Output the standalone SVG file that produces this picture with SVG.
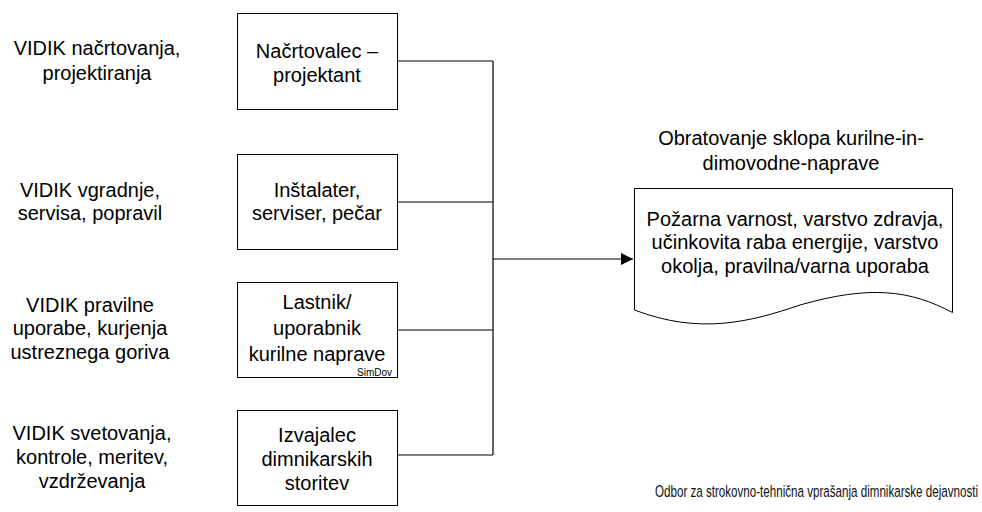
<svg xmlns="http://www.w3.org/2000/svg" width="982" height="512" viewBox="0 0 982 512">
<style>
.box{fill:#fff;stroke:#000;stroke-width:1}
.t{font-family:"Liberation Sans",Arial,sans-serif;font-size:20px;fill:#000;text-anchor:middle}
.c{fill:none;stroke:#000;stroke-width:1.2}
.s{font-family:"Liberation Sans",Arial,sans-serif;font-size:10px;fill:#000}
.f{font-family:"Liberation Sans",Arial,sans-serif;font-size:14px;fill:#111}
</style>
<defs>
<marker id="arr" viewBox="0 0 12 12" refX="12" refY="6" markerWidth="12" markerHeight="12" markerUnits="userSpaceOnUse" orient="auto">
<path d="M0,0 L12,6 L0,12 Z" fill="#000"/>
</marker>
</defs>
<rect width="982" height="512" fill="#fff"/>
<g id="labels">
<text class="t" x="97" y="55">VIDIK načrtovanja,</text>
<text class="t" x="97" y="80">projektiranja</text>
<text class="t" x="90" y="197">VIDIK vgradnje,</text>
<text class="t" x="90" y="220">servisa, popravil</text>
<text class="t" x="90" y="312">VIDIK pravilne</text>
<text class="t" x="90" y="335">uporabe, kurjenja</text>
<text class="t" x="90" y="359">ustreznega goriva</text>
<text class="t" x="92" y="440">VIDIK svetovanja,</text>
<text class="t" x="92" y="464">kontrole, meritev,</text>
<text class="t" x="92" y="488">vzdrževanja</text>
</g>
<g id="connectors">
<path class="c" d="M397,61 H493 M397,202 H493 M397,330 H493 M397,455 H493 M493,61 V455"/>
<path class="c" d="M493,259 H633" marker-end="url(#arr)"/>
</g>
<g id="node1">
<rect class="box" x="237.5" y="13.5" width="160" height="96"/>
<text class="t" x="317" y="58">Načrtovalec –</text>
<text class="t" x="317" y="82">projektant</text>
</g>
<g id="node2">
<rect class="box" x="237.5" y="154.5" width="160" height="95"/>
<text class="t" x="317" y="197">Inštalater,</text>
<text class="t" x="317" y="220">serviser, pečar</text>
</g>
<g id="node3">
<rect class="box" x="237.5" y="282.5" width="160" height="95"/>
<text class="t" x="317" y="309">Lastnik/</text>
<text class="t" x="317" y="335">uporabnik</text>
<text class="t" x="317" y="361">kurilne naprave</text>
<text class="s" x="357" y="376">SimDov</text>
</g>
<g id="node4">
<rect class="box" x="237.5" y="410.5" width="160" height="95"/>
<text class="t" x="317" y="442">Izvajalec</text>
<text class="t" x="317" y="466">dimnikarskih</text>
<text class="t" x="317" y="490">storitev</text>
</g>
<g id="title">
<text class="t" x="791" y="145">Obratovanje sklopa kurilne-in-</text>
<text class="t" x="791" y="170">dimovodne-naprave</text>
</g>
<g id="document">
<path class="box" d="M634.5,188.5 H952.5 V312.5 C910,290 870,285 800,305 C750,322 700,335 634.5,310 Z"/>
<text class="t" x="795" y="226">Požarna varnost, varstvo zdravja,</text>
<text class="t" x="795" y="249">učinkovita raba energije, varstvo</text>
<text class="t" x="795" y="273">okolja, pravilna/varna uporaba</text>
</g>
<text class="f" transform="translate(655,497) scale(0.83,1.15)" x="0" y="0">Odbor za strokovno-tehnična vprašanja dimnikarske dejavnosti</text>
</svg>
